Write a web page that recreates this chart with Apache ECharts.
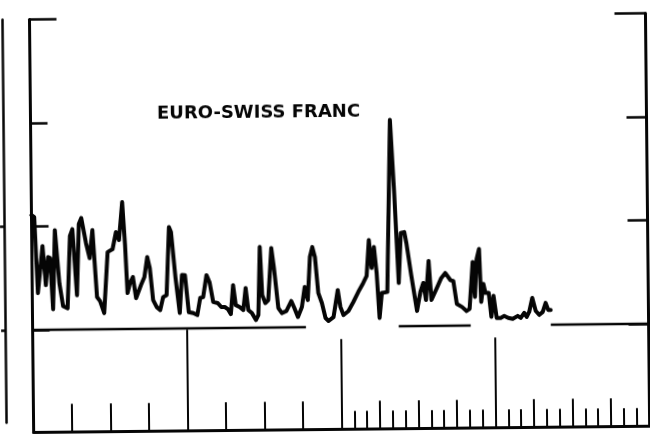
<!DOCTYPE html>
<html>
<head>
<meta charset="utf-8">
<script src="https://cdn.jsdelivr.net/npm/echarts@6/dist/echarts.min.js"></script>
<style>
html,body{margin:0;padding:0;background:#fff;overflow:hidden;}
#chart{width:650px;height:435px;transform:rotate(-0.58deg);transform-origin:325px 217px;}
</style>
</head>
<body>
<div id="chart"></div>
<script>
// ---- data ----
const chartTitle = 'EURO-SWISS FRANC';
const xPos = [0, 0.07, 0.148, 0.278, 0.356, 0.421, 0.473, 0.538, 0.603, 0.707,
  0.798, 0.915, 0.993, 1.058, 1.162, 1.227, 1.292, 1.409, 1.5, 1.578,
  1.682, 1.76, 1.864, 1.968, 2.098, 2.189, 2.267, 2.358, 2.423, 2.475,
  2.54, 2.618, 2.696, 2.826, 2.917, 2.995, 3.06, 3.138, 3.229, 3.32,
  3.398, 3.489, 3.567, 3.619, 3.723, 3.827, 3.892, 3.97, 4.061, 4.178,
  4.282, 4.36, 4.438, 4.529, 4.607, 4.698, 4.815, 4.906, 4.997, 5.075,
  5.153, 5.218, 5.283, 5.387, 5.478, 5.543, 5.608, 5.699, 5.803, 5.868,
  5.92, 5.972, 6.05, 6.128, 6.219, 6.284, 6.388, 6.479, 6.596, 6.726,
  6.804, 6.895, 7.0, 7.077, 7.155, 7.22, 7.285, 7.351, 7.429, 7.52,
  7.611, 7.689, 7.819, 7.935, 8.0, 8.078, 8.208, 8.338, 8.468, 8.598,
  8.689, 8.755, 8.82, 8.885, 8.95, 9.015, 9.08, 9.223, 9.334, 9.423,
  9.522, 9.587, 9.678, 9.73, 9.847, 9.99, 10.081, 10.159, 10.224, 10.302,
  10.367, 10.51, 10.627, 10.731, 10.861, 10.939, 11.025, 11.16, 11.277, 11.355,
  11.446, 11.498, 11.55, 11.615, 11.659, 11.719, 11.771, 11.856, 11.919, 11.979,
  12.057, 12.161, 12.252, 12.356, 12.473, 12.603, 12.681, 12.772, 12.837, 12.902,
  12.985, 13.071, 13.162, 13.253, 13.331, 13.396, 13.461];
const values = [11.09, 10.9, 3.56, 8.09, 4.32, 7.02, 6.92, 1.99, 9.62, 4.5,
  2.27, 2.07, 9.03, 9.7, 3.32, 10.18, 10.76, 8.34, 6.88, 9.59,
  3.11, 2.72, 1.56, 7.45, 7.73, 9.37, 8.6, 12.26, 8.11, 3.47,
  4.43, 5.01, 2.98, 4.23, 5.0, 6.93, 5.86, 2.77, 2.09, 1.8,
  3.05, 3.24, 9.81, 9.32, 4.97, 1.49, 5.16, 5.15, 1.57, 1.47,
  1.28, 2.92, 3.01, 5.13, 4.45, 2.52, 2.42, 2.03, 2.03, 1.83,
  1.34, 4.14, 2.21, 2.01, 1.72, 3.84, 1.71, 1.42, 0.74, 1.22,
  7.79, 3.15, 2.37, 2.66, 7.68, 5.75, 1.88, 1.39, 1.58, 2.54,
  1.86, 0.99, 1.95, 3.88, 2.62, 6.78, 7.74, 6.77, 3.29, 2.32,
  0.87, 0.58, 0.96, 3.56, 1.92, 1.14, 1.52, 2.39, 3.35, 4.21,
  4.89, 8.36, 5.66, 7.68, 5.17, 0.82, 3.23, 3.32, 19.94, 13.17,
  4.18, 9.01, 9.1, 8.04, 4.94, 1.46, 3.29, 4.16, 2.51, 6.28,
  2.51, 3.66, 4.62, 5.1, 4.42, 4.32, 2.1, 1.8, 1.41, 1.6,
  6.14, 2.76, 6.43, 7.39, 2.27, 4.01, 3.13, 3.13, 0.81, 2.84,
  0.71, 0.71, 0.89, 0.7, 0.6, 0.88, 0.69, 1.17, 0.78, 1.26,
  2.61, 1.35, 0.96, 1.24, 2.11, 1.43, 1.43];
const yTickValues = [0, 10, 20, 30];
const yTopTick = [30];
const outerTicks = [0, 10];
const unitTicks = [1, 2, 3, 5, 6, 7, 9, 10, 11, 13, 14, 15];
const minorTicks = [8.333, 8.667, 9.333, 9.667, 10.333, 10.667, 11.333, 11.667,
  12.333, 12.667, 13.333, 13.667, 14.333, 14.667, 15.333, 15.667];
const longTicks = [4];
const midTicks = [8, 12];
const baseStart = [0, 9.51, 13.46];
const baseEnd = [7.1, 11.38, 16];

// ---- chart ----
const INK = '#050505';
const chart = echarts.init(document.getElementById('chart'), null, {renderer: 'canvas'});

const mainRect = {left: 31.5, right: 2.5, top: 16.5, height: 310.5};
const bandRect = {left: 31.5, right: 2.5, top: 327, height: 102.3};
function grid(r) { return Object.assign({outerBoundsMode: 'none', containLabel: false}, r); }

function hiddenX(gi) { return {type: 'value', gridIndex: gi, min: 0, max: 16, show: false}; }
function hiddenY(gi) { return {type: 'value', gridIndex: gi, min: 0, max: 1, show: false}; }
function tickX(gi, vals, len, showLine) {
  return {
    type: 'value', gridIndex: gi, min: 0, max: 16,
    axisLine: {show: !!showLine, onZero: false, lineStyle: {color: INK, width: 3}},
    axisTick: {show: true, inside: true, customValues: vals, length: len, lineStyle: {color: INK, width: 2}},
    axisLabel: {show: false}, splitLine: {show: false}
  };
}
function yAx(gi, pos, min, max, vals, len, showLine, lw) {
  return {
    type: 'value', gridIndex: gi, position: pos, min: min, max: max,
    axisLine: {show: showLine, onZero: false, lineStyle: {color: INK, width: lw || 3}},
    axisTick: vals ? {show: true, inside: true, customValues: vals, length: len, lineStyle: {color: INK, width: 2.5}} : {show: false},
    axisLabel: {show: false}, splitLine: {show: false}
  };
}

const lineData = xPos.map((x, i) => [x, values[i]]);
const baseSeries = baseStart.map((s, i) => ({
  type: 'line', xAxisIndex: 0, yAxisIndex: 0, clip: false, silent: true,
  showSymbol: false, symbol: 'none',
  data: [[s, 0], [baseEnd[i], 0]],
  lineStyle: {color: INK, width: 2.5}, z: 2
}));

chart.setOption({
  animation: false,
  backgroundColor: '#fff',
  title: {
    text: chartTitle, left: 158, top: 103, padding: 0,
    textStyle: {fontFamily: 'DejaVu Sans', fontWeight: 'bold', fontSize: 18, color: INK}
  },
  grid: [
    grid(mainRect),                                   // 0 main plot
    grid(bandRect),                                   // 1 band: axis line + unit ticks
    grid(bandRect),                                   // 2 minor ticks
    grid(bandRect),                                   // 3 long tick
    grid(bandRect),                                   // 4 mid ticks
    grid({left: 0, right: 646, top: 16.5, height: 403}), // 5 outer frame line
    grid(mainRect)                                    // 6 top stubs
  ],
  xAxis: [
    hiddenX(0),
    tickX(1, unitTicks, 28, true),
    tickX(2, minorTicks, 18, false),
    tickX(3, longTicks, 101, false),
    tickX(4, midTicks, 90, false),
    hiddenX(5),
    hiddenX(6)
  ],
  yAxis: [
    yAx(0, 'left', 0, 30, yTickValues, 17, true),
    yAx(0, 'right', 0, 30, yTickValues, 20, true),
    yAx(1, 'left', 0, 1, null, 0, true),
    yAx(1, 'right', 0, 1, null, 0, true),
    hiddenY(2), hiddenY(3), hiddenY(4),
    yAx(5, 'right', -8.94, 30, outerTicks, 4, true, 2.5),
    yAx(6, 'left', 0, 30, yTopTick, 27, false),
    yAx(6, 'right', 0, 30, yTopTick, 31, false)
  ],
  series: baseSeries.concat([{
    type: 'line', xAxisIndex: 0, yAxisIndex: 0, clip: false,
    showSymbol: false, symbol: 'none', data: lineData,
    lineStyle: {color: INK, width: 4, join: 'round', cap: 'round'}, z: 3
  }])
});
</script>
</body>
</html>
